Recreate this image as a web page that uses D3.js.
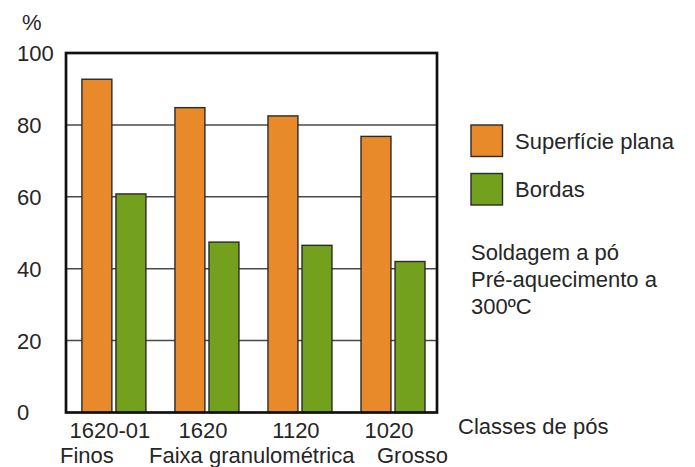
<!DOCTYPE html>
<html>
<head>
<meta charset="utf-8">
<script src="https://cdn.jsdelivr.net/npm/d3@7"></script>
<style>
  html, body { margin: 0; padding: 0; background: #fff; }
  svg { display: block; }
  text { font-family: "Liberation Sans", Arial, sans-serif; fill: #262626; }
</style>
</head>
<body>
<svg id="chart" width="695" height="467"></svg>
<script>
const categories = ["1620-01", "1620", "1120", "1020"];
const seriesNames = ["Superfície plana", "Bordas"];
const superficiePlana = [92.7, 84.8, 82.5, 76.8];
const bordas = [60.8, 47.4, 46.5, 42.0];
const yTicks = [0, 20, 40, 60, 80, 100];
const classLabels = ["Finos", "Faixa granulométrica", "Grosso"];
const noteLines = ["Soldagem a pó", "Pré-aquecimento a", "300ºC"];
const colors = ["#E8892A", "#73A01D"];

const svg = d3.select("#chart");
const plotLeft = 66, plotRight = 437, plotTop = 53, plotBottom = 412.5;
const fs = 22;

const y = d3.scaleLinear().domain([0, 100]).range([plotBottom, plotTop]);
const x0 = d3.scaleBand().domain(categories).range([plotLeft, plotRight])
  .paddingInner(0.312).paddingOuter(0.15).align(0.57);
const x1 = d3.scaleBand().domain(seriesNames).range([0, x0.bandwidth()])
  .paddingInner(0.12).paddingOuter(0);

// gridlines
svg.append("g").selectAll("line")
  .data(yTicks.filter(d => d > 0 && d < 100))
  .join("line")
  .attr("x1", plotLeft).attr("x2", plotRight)
  .attr("y1", d => y(d)).attr("y2", d => y(d))
  .attr("stroke", "#4a4a4a").attr("stroke-width", 1.5);

// bars
const data = categories.map((c, i) => ({ c, vals: [superficiePlana[i], bordas[i]] }));
const groups = svg.append("g").selectAll("g")
  .data(data).join("g")
  .attr("transform", d => `translate(${x0(d.c)},0)`);
groups.selectAll("rect")
  .data(d => d.vals.map((v, j) => ({ s: seriesNames[j], v, j })))
  .join("rect")
  .attr("x", d => x1(d.s))
  .attr("width", x1.bandwidth())
  .attr("y", d => y(d.v))
  .attr("height", d => y(0) - y(d.v))
  .attr("fill", d => colors[d.j])
  .attr("stroke", "#2a2a2a").attr("stroke-width", 1.4);

// frame
svg.append("rect")
  .attr("x", plotLeft).attr("y", plotTop)
  .attr("width", plotRight - plotLeft).attr("height", plotBottom - plotTop)
  .attr("fill", "none").attr("stroke", "#111").attr("stroke-width", 2.7);

// y axis labels (left aligned)
svg.append("g").selectAll("text")
  .data(yTicks).join("text")
  .attr("x", 17).attr("y", d => y(d))
  .attr("dy", "0.36em")
  .attr("font-size", fs)
  .text(d => d);

svg.append("text").attr("x", 22).attr("y", 30).attr("font-size", fs).text("%");

// x category labels
svg.append("g").selectAll("text")
  .data(categories).join("text")
  .attr("x", d => x0(d) + x0.bandwidth() / 2 - 4)
  .attr("y", 437.5)
  .attr("text-anchor", "middle")
  .attr("font-size", fs)
  .text(d => d);

const classX = [60, 149, 377];
svg.append("g").selectAll("text")
  .data(classLabels).join("text")
  .attr("x", (d, i) => classX[i])
  .attr("y", 463)
  .attr("font-size", fs)
  .text(d => d);

svg.append("text").attr("x", 458).attr("y", 434).attr("font-size", fs).text("Classes de pós");

// legend
const lg = svg.append("g");
seriesNames.forEach((s, i) => {
  lg.append("rect").attr("x", 471).attr("y", 125 + i * 48.5)
    .attr("width", 31.5).attr("height", 31.5)
    .attr("fill", colors[i]).attr("stroke", "#2a2a2a").attr("stroke-width", 1.4);
  lg.append("text").attr("x", 515).attr("y", 141 + i * 48.5).attr("dy", "0.36em")
    .attr("font-size", fs).text(s);
});

svg.append("g").selectAll("text")
  .data(noteLines).join("text")
  .attr("x", 471).attr("y", (d, i) => 260 + i * 27)
  .attr("font-size", fs).text(d => d);
</script>
</body>
</html>
